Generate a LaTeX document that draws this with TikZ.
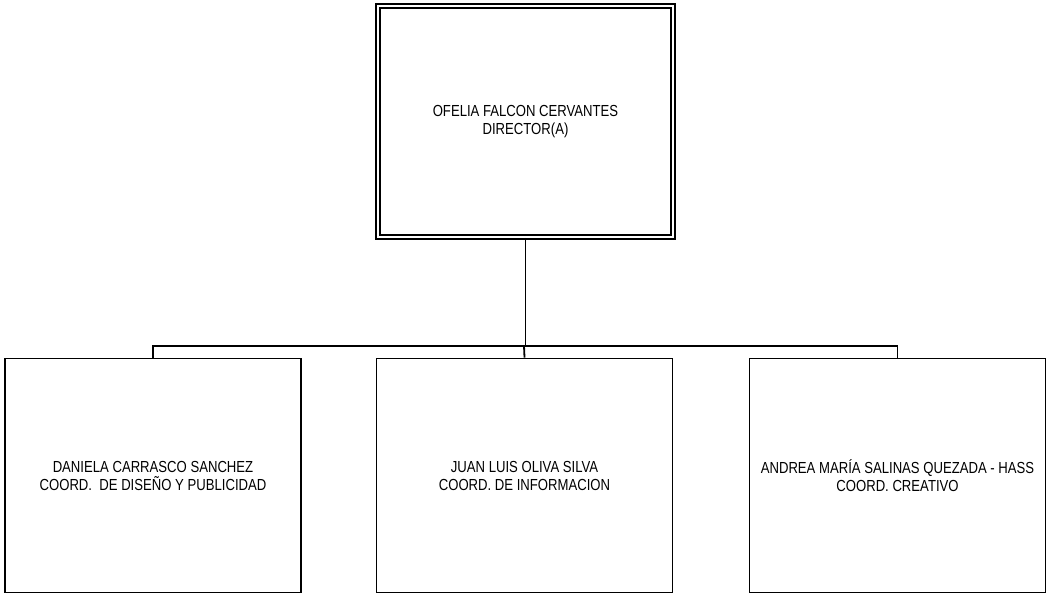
\documentclass[tikz,border=0pt]{standalone}
\usepackage{fontspec}
\setmainfont[FakeStretch=0.82]{Liberation Sans}
\begin{document}
\begin{tikzpicture}[x=1pt,y=-1pt,
  box/.style={draw=black,line width=1.8pt,fill=white,minimum width=296pt,minimum height=234pt,
    inner sep=0pt,align=center,font=\fontsize{16}{18}\selectfont},
  topbox/.style={box,double,double distance=2.5pt,line width=1.6pt,minimum width=295pt,minimum height=231pt},
  link/.style={draw=black,line width=1.8pt}]
\useasboundingbox (0,0) rectangle (1047,595);
\node[topbox] (dir) at (525.5,121.5) {OFELIA FALCON CERVANTES\\DIRECTOR(A)};
\node[box] (c1) at (153,475.5) {DANIELA CARRASCO SANCHEZ\\COORD.\ \ DE DISEÑO Y PUBLICIDAD};
\node[box] (c2) at (524.5,475.5) {JUAN LUIS OLIVA SILVA\\COORD. DE INFORMACION};
\node[box] (c3) at (897.5,475.5) {ANDREA MARÍA SALINAS QUEZADA - HASS\\COORD. CREATIVO};
\coordinate (bus) at (524,346);
\draw[link] (dir.south) -- (dir.south |- bus);
\draw[link] (c1.north) |- (bus) -| (c3.north);
\draw[link] (bus) -- (c2.north);
\end{tikzpicture}
\end{document}
